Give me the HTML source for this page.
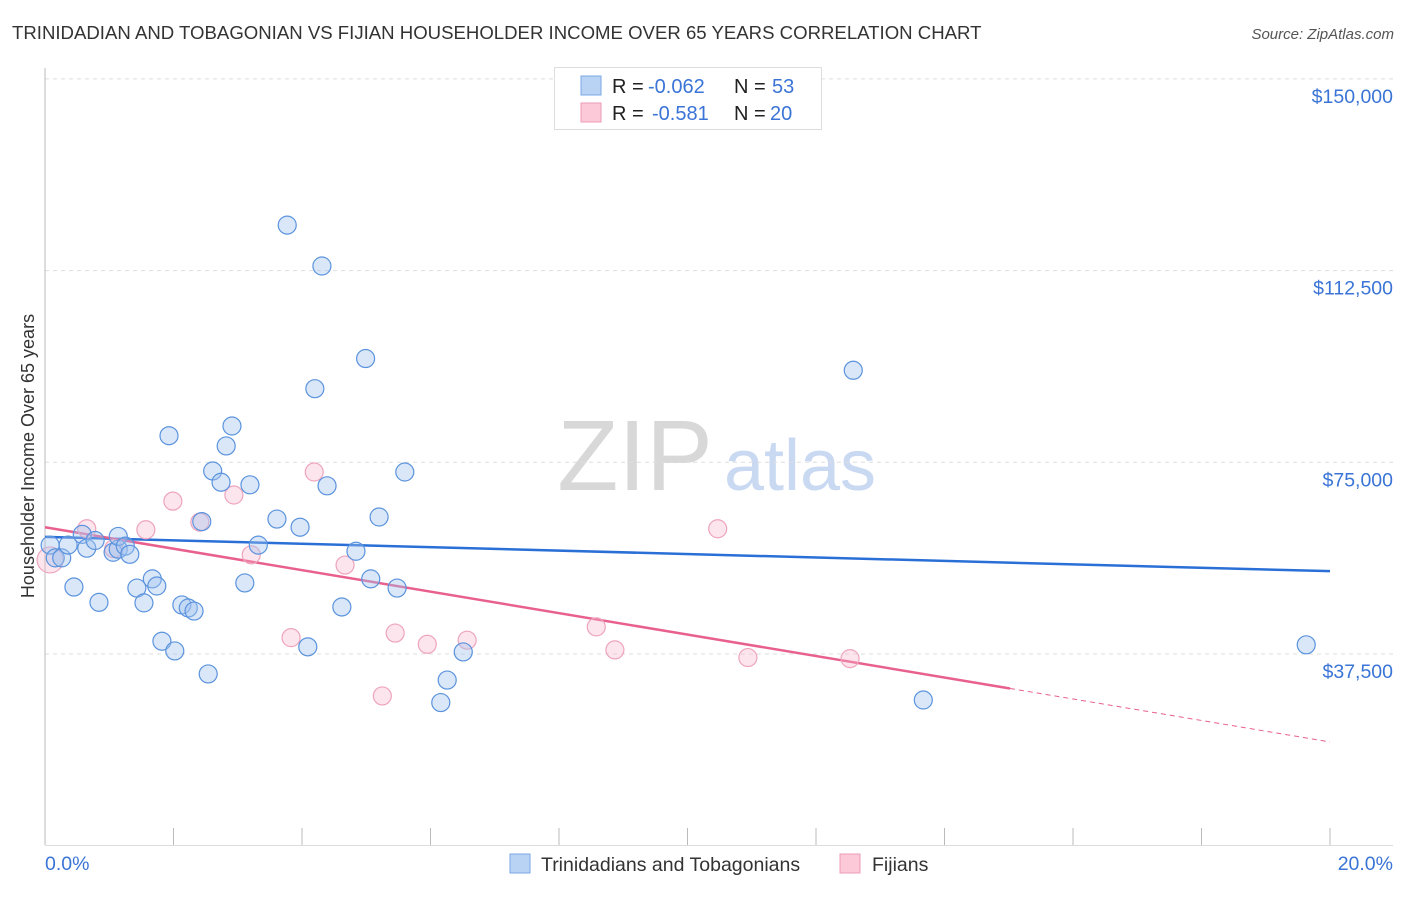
<!DOCTYPE html>
<html><head><meta charset="utf-8"><style>
body{margin:0;background:#fff;font-family:"Liberation Sans",sans-serif;}
svg text{font-family:"Liberation Sans",sans-serif;}
</style></head><body>
<svg id="chart" width="1406" height="892">
<text x="12" y="39" font-size="18.6" fill="#333">TRINIDADIAN AND TOBAGONIAN VS FIJIAN HOUSEHOLDER INCOME OVER 65 YEARS CORRELATION CHART</text>
<text x="1394" y="39" font-size="15" fill="#555" font-style="italic" text-anchor="end">Source: ZipAtlas.com</text>
<g>
<text x="635" y="490" font-size="100" fill="#d8d8d8" font-family="Liberation Serif" text-anchor="middle">ZIP</text>
<text x="800" y="490" font-size="72" fill="#c9d9f2" text-anchor="middle">atlas</text>
</g>
<g id="grid"></g>
<g id="axes"></g>
<g id="trends"></g>
<g id="points"></g>
<text transform="translate(34,456) rotate(-90)" font-size="18" fill="#333" text-anchor="middle">Householder Income Over 65 years</text>
<g>
<rect x="554.5" y="67.5" width="267" height="62" fill="#fff" stroke="#ddd"/>
<rect x="581" y="76" width="20" height="19" fill="#b9d3f5" stroke="#7aa7e6"/>
<text x="612" y="93" font-size="20" fill="#222">R =</text>
<text x="648" y="93" font-size="20" fill="#3a74d6">-0.062</text>
<text x="734" y="93" font-size="20" fill="#222">N =</text>
<text x="772" y="93" font-size="20" fill="#3a74d6">53</text>
<rect x="581" y="103" width="20" height="19" fill="#fcc9d8" stroke="#ee9bb6"/>
<text x="612" y="120" font-size="20" fill="#222">R =</text>
<text x="652" y="120" font-size="20" fill="#3a74d6">-0.581</text>
<text x="734" y="120" font-size="20" fill="#222">N =</text>
<text x="770" y="120" font-size="20" fill="#3a74d6">20</text>
</g>
<g>
<rect x="510" y="854" width="20" height="19" fill="#b9d3f5" stroke="#7aa7e6"/>
<text x="541" y="871" font-size="19.5" fill="#333">Trinidadians and Tobagonians</text>
<rect x="840" y="854" width="20" height="19" fill="#fcc9d8" stroke="#ee9bb6"/>
<text x="872" y="871" font-size="19.5" fill="#333">Fijians</text>
</g>
</svg>
<script>
const yTicks=[37500,75000,112500,150000];
const yTickLabels=["$37,500","$75,000","$112,500","$150,000"];
const xTicks=[0,2,4,6,8,10,12,14,16,18,20];
const blueX=[0.08,0.16,0.26,0.36,0.45,0.58,0.65,0.78,0.84,1.06,1.14,1.14,1.25,1.32,1.43,1.54,1.67,1.74,1.82,1.93,2.02,2.13,2.23,2.32,2.44,2.54,2.61,2.74,2.82,2.91,3.11,3.19,3.32,3.61,3.77,3.97,4.09,4.20,4.31,4.39,4.62,4.84,4.99,5.07,5.20,5.48,5.60,6.16,6.26,6.51,12.58,13.67,19.63];
const blueY=[58800,56300,56300,58800,50600,60900,58200,59700,47600,57400,58000,60500,58600,57000,50400,47500,52200,50800,40000,80200,38100,47100,46500,45900,63400,33600,73300,71100,78200,82100,51400,70600,58800,63900,121400,62300,38900,89400,113400,70400,46700,57600,95300,52200,64300,50400,73100,28000,32400,37900,93000,28500,39300];
const pinkX=[0.08,0.65,1.07,1.57,1.99,2.41,2.94,3.21,3.83,4.19,4.67,5.25,5.45,5.95,6.57,8.58,8.87,10.47,10.94,12.53];
const pinkY=[55900,62000,58100,61800,67400,63300,68600,56900,40700,73100,54900,29300,41600,39400,40200,42800,38300,62000,36800,36600];
const blueTrend=[60400,53700];
const pinkTrend=[62300,20300];
const pinkSolidEnd=15.02;
const NS="http://www.w3.org/2000/svg";
const X=v=>45+v/20*1285;
const Y=v=>845.7-v/37500*191.7;
function mk(tag,attrs,parent){const e=document.createElementNS(NS,tag);for(const k in attrs)e.setAttribute(k,attrs[k]);document.getElementById(parent).appendChild(e);return e;}
yTicks.forEach((t,i)=>{
 const g=mk('line',{x1:45,x2:1393,y1:Y(t),y2:Y(t),stroke:'#ddd','stroke-dasharray':'4,4'},'grid');
 
 
 const l=mk('text',{x:1393,y:Y(t)+24,'font-size':19.5,fill:'#3a74d6','text-anchor':'end'},'axes');
 l.textContent=yTickLabels[i];
 
 
});
const ya=mk('line',{x1:45,x2:45,y1:68,y2:845,stroke:'#bbb'},'axes');


const xa=mk('line',{x1:45,x2:1393,y1:845.5,y2:845.5,stroke:'#ddd'},'axes');


xTicks.forEach(t=>{
 const tk=mk('line',{x1:X(t),x2:X(t),y1:828,y2:845,stroke:'#bbb'},'axes');
 
 
});
const x0=mk('text',{x:45,y:870,'font-size':19.5,fill:'#3a74d6'},'axes');x0.textContent='0.0%';


const x1=mk('text',{x:1393,y:870,'font-size':19.5,fill:'#3a74d6','text-anchor':'end'},'axes');x1.textContent='20.0%';


pinkX.forEach((v,i)=>{
 const r=i===0?13:9;
 const c=mk('circle',{cx:X(v),cy:Y(pinkY[i]),r:r,fill:'rgba(248,180,202,0.35)',stroke:'#eea4bc','stroke-width':1.2},'points');
 
 
});
blueX.forEach((v,i)=>{
 const c=mk('circle',{cx:X(v),cy:Y(blueY[i]),r:9,fill:'rgba(160,196,240,0.4)',stroke:'#5b93dd','stroke-width':1.2},'points');
 
 
});
const bt=mk('line',{x1:X(0),y1:Y(blueTrend[0]),x2:X(20),y2:Y(blueTrend[1]),stroke:'#2a6fd6','stroke-width':2.5},'trends');


const pAt=x=>pinkTrend[0]+(pinkTrend[1]-pinkTrend[0])*x/20;
const pt=mk('line',{x1:X(0),y1:Y(pinkTrend[0]),x2:X(pinkSolidEnd),y2:Y(pAt(pinkSolidEnd)),stroke:'#e8608e','stroke-width':2.5},'trends');


const pd=mk('line',{x1:X(pinkSolidEnd),y1:Y(pAt(pinkSolidEnd)),x2:X(20),y2:Y(pinkTrend[1]),stroke:'#e8608e','stroke-width':1,'stroke-dasharray':'5,4'},'trends');


</script>
</body></html>
